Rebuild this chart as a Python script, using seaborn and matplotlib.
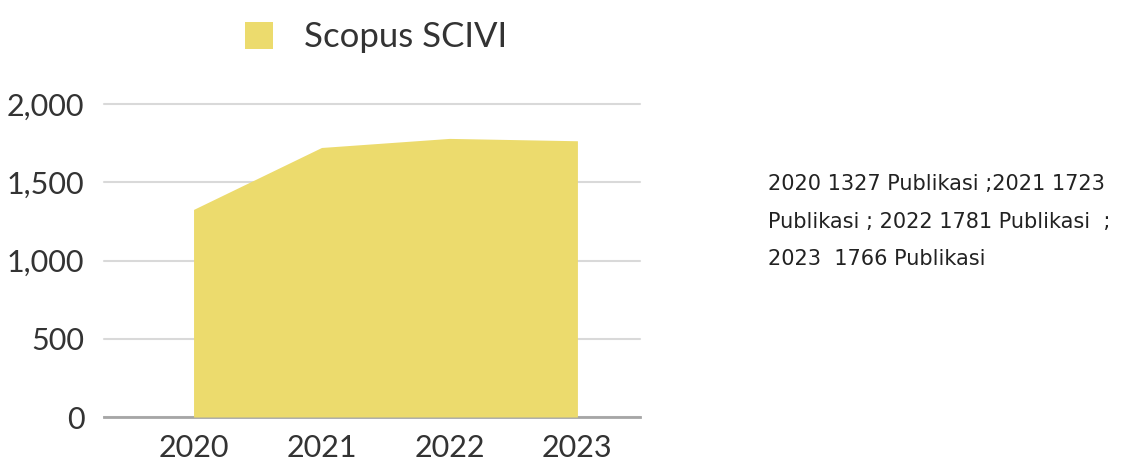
import numpy as np
import pandas as pd
import matplotlib
matplotlib.use("Agg")
import matplotlib.pyplot as plt
import seaborn as sns
from matplotlib.patches import Patch
from matplotlib.ticker import FuncFormatter

# data
years = [2020, 2021, 2022, 2023]
publications = [1327, 1723, 1781, 1766]
series_name = "Scopus SCIVI"
note = ("2020 1327 Publikasi ;2021 1723\n"
        "Publikasi ; 2022 1781 Publikasi  ;\n"
        "2023  1766 Publikasi")

sns.set_theme(style="white")
plt.rcParams['font.family'] = ['Lato', 'DejaVu Sans']

fill_color = "#ECDB6D"
df = pd.DataFrame({"year": years, "count": publications})

fig = plt.figure(figsize=(11.24, 4.67), dpi=100)
ax = fig.add_axes([0.0925, 0.107, 0.477, 0.670])

sns.lineplot(data=df, x="year", y="count", ax=ax, color=fill_color, linewidth=0)
ax.fill_between(df["year"], 0, df["count"], color=fill_color, linewidth=0, zorder=2)

ax.set_xlim(2020 - 0.70, 2023 + 0.49)
ax.set_ylim(0, 2000)
ax.set_yticks([0, 500, 1000, 1500, 2000])
ax.set_xticks(years)
ax.yaxis.set_major_formatter(FuncFormatter(lambda v, p: f"{int(v):,}"))
ax.grid(axis="y", color="#d9d9d9", linewidth=1.5)
for gl in ax.get_ygridlines():
    gl.set_clip_on(False)
ax.set_axisbelow(True)

for s in ["top", "right", "left"]:
    ax.spines[s].set_visible(False)
ax.spines["bottom"].set_color("#a6a6a6")
ax.spines["bottom"].set_linewidth(2)
ax.spines["bottom"].set_zorder(1)

ax.tick_params(axis="both", length=0, labelsize=22, colors="#333333")
ax.tick_params(axis="y", pad=14)
ax.tick_params(axis="x", pad=12)
ax.set_xlabel("")
ax.set_ylabel("")

handle = Patch(facecolor=fill_color, edgecolor="none")
fig.legend([handle], [series_name], loc="center", bbox_to_anchor=(0.335, 0.92),
           frameon=False, fontsize=25, handlelength=0.8, handleheight=0.8,
           handletextpad=0.9, labelcolor="#333333")

fig.text(0.683, 0.627, note, fontsize=15, color="#222222", va="top", ha="left",
         linespacing=2.1, family=['DejaVu Sans'])

fig.savefig("out.png", dpi=100, facecolor="white")
